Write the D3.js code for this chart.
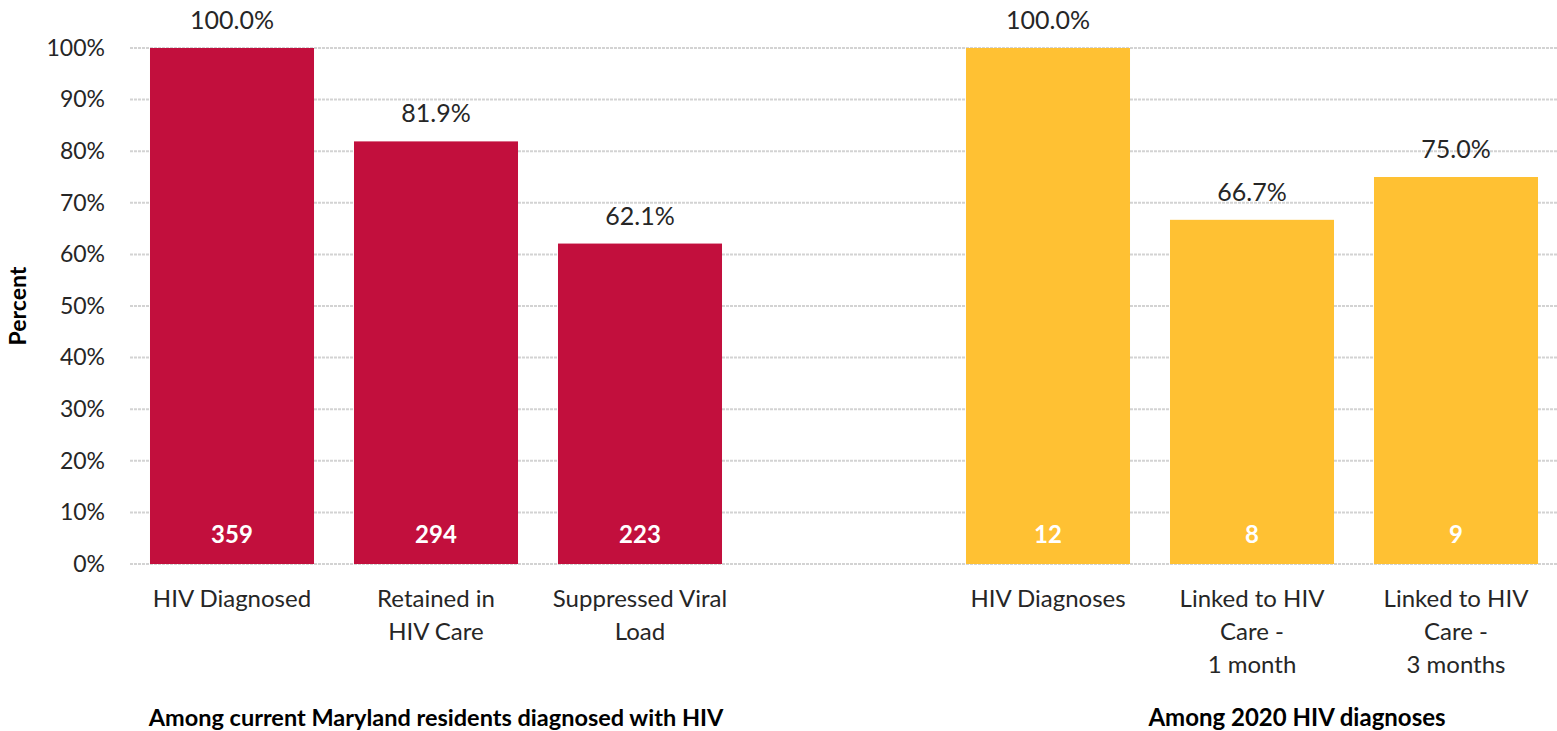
<!DOCTYPE html>
<html><head><meta charset="utf-8">
<script src="https://cdn.jsdelivr.net/npm/d3@7"></script>
<style>body{margin:0;background:#fff;} text{font-family:Lato,"Open Sans",sans-serif;}</style>
</head><body>
<svg id="c" width="1557" height="731"></svg>
<script>
const categories = ["HIV Diagnosed","Retained in HIV Care","Suppressed Viral Load","","HIV Diagnoses","Linked to HIV Care - 1 month","Linked to HIV Care - 3 months"];
const categoryLines = [["HIV Diagnosed"],["Retained in","HIV Care"],["Suppressed Viral","Load"],[],["HIV Diagnoses"],["Linked to HIV","Care -","1 month"],["Linked to HIV","Care -","3 months"]];
const percentValues = [100.0, 81.9, 62.1, null, 100.0, 66.7, 75.0];
const countValues = [359, 294, 223, null, 12, 8, 9];
const groupIndex = [0, 0, 0, null, 1, 1, 1];
const groupLabels = ["Among current Maryland residents diagnosed with HIV", "Among 2020 HIV diagnoses"];
const groupColors = ["#C20F3D", "#FFC133"];
const yTicks = [0,10,20,30,40,50,60,70,80,90,100];

const svg = d3.select("#c");
const x = d3.scaleBand().domain(categories.map((d,i)=>i)).range([130,1558]).paddingInner(0.196).paddingOuter(0.098);
const y = d3.scaleLinear().domain([0,100]).range([564,48]);

// gridlines
svg.append("g").selectAll("line").data(yTicks).join("line")
  .attr("x1",130).attr("x2",1557).attr("y1",d=>y(d)).attr("y2",d=>y(d))
  .attr("stroke","#d3d3d3").attr("stroke-width",2).attr("stroke-dasharray","3,1");

// y axis tick labels
const yAxis = d3.axisLeft(y).tickValues(yTicks).tickFormat(d=>d+"%").tickSize(0).tickPadding(0);
const ya = svg.append("g").attr("transform","translate(105,0)").call(yAxis);
ya.select(".domain").remove();
ya.selectAll("text").attr("font-family","Lato").attr("font-size",23).attr("fill","#262626");

// y title
svg.append("text").attr("transform","translate(26,306) rotate(-90)").attr("text-anchor","middle")
  .attr("font-size",23).attr("font-weight","bold").attr("fill","#000").text("Percent");

const idx = percentValues.map((v,i)=>i).filter(i=>percentValues[i]!=null);

svg.append("g").selectAll("rect").data(idx).join("rect")
  .attr("x",i=>x(i)).attr("width",x.bandwidth())
  .attr("y",i=>y(percentValues[i])).attr("height",i=>y(0)-y(percentValues[i]))
  .attr("fill",i=>groupColors[groupIndex[i]]);

svg.append("g").selectAll("text").data(idx).join("text")
  .attr("x",i=>x(i)+x.bandwidth()/2).attr("y",i=>y(percentValues[i])-19)
  .attr("text-anchor","middle").attr("font-size",25).attr("fill","#262626")
  .text(i=>percentValues[i].toFixed(1)+"%");

svg.append("g").selectAll("text").data(idx).join("text")
  .attr("x",i=>x(i)+x.bandwidth()/2).attr("y",y(0)-21)
  .attr("text-anchor","middle").attr("font-size",24).attr("font-weight","bold").attr("fill","#fff")
  .text(i=>countValues[i]);

// category labels
const cl = svg.append("g").selectAll("text").data(idx).join("text")
  .attr("x",i=>x(i)+x.bandwidth()/2).attr("y",607)
  .attr("text-anchor","middle").attr("font-size",24).attr("fill","#262626");
cl.selectAll("tspan").data(i=>categoryLines[i].map(t=>({t,i}))).join("tspan")
  .attr("x",d=>x(d.i)+x.bandwidth()/2).attr("dy",(d,k)=>k===0?0:33).text(d=>d.t);

// group labels
const g0 = idx.filter(i=>groupIndex[i]===0);
svg.append("text").attr("x",(x(g0[0])+x(g0[g0.length-1])+x.bandwidth())/2).attr("y",726)
  .attr("text-anchor","middle").attr("font-size",23.5).attr("font-weight","bold").attr("fill","#000").text(groupLabels[0]);
svg.append("text").attr("x",x(5)+x.bandwidth()/2+45).attr("y",726)
  .attr("text-anchor","middle").attr("font-size",24).attr("font-weight","bold").attr("fill","#000").text(groupLabels[1]);
</script>
</body></html>
